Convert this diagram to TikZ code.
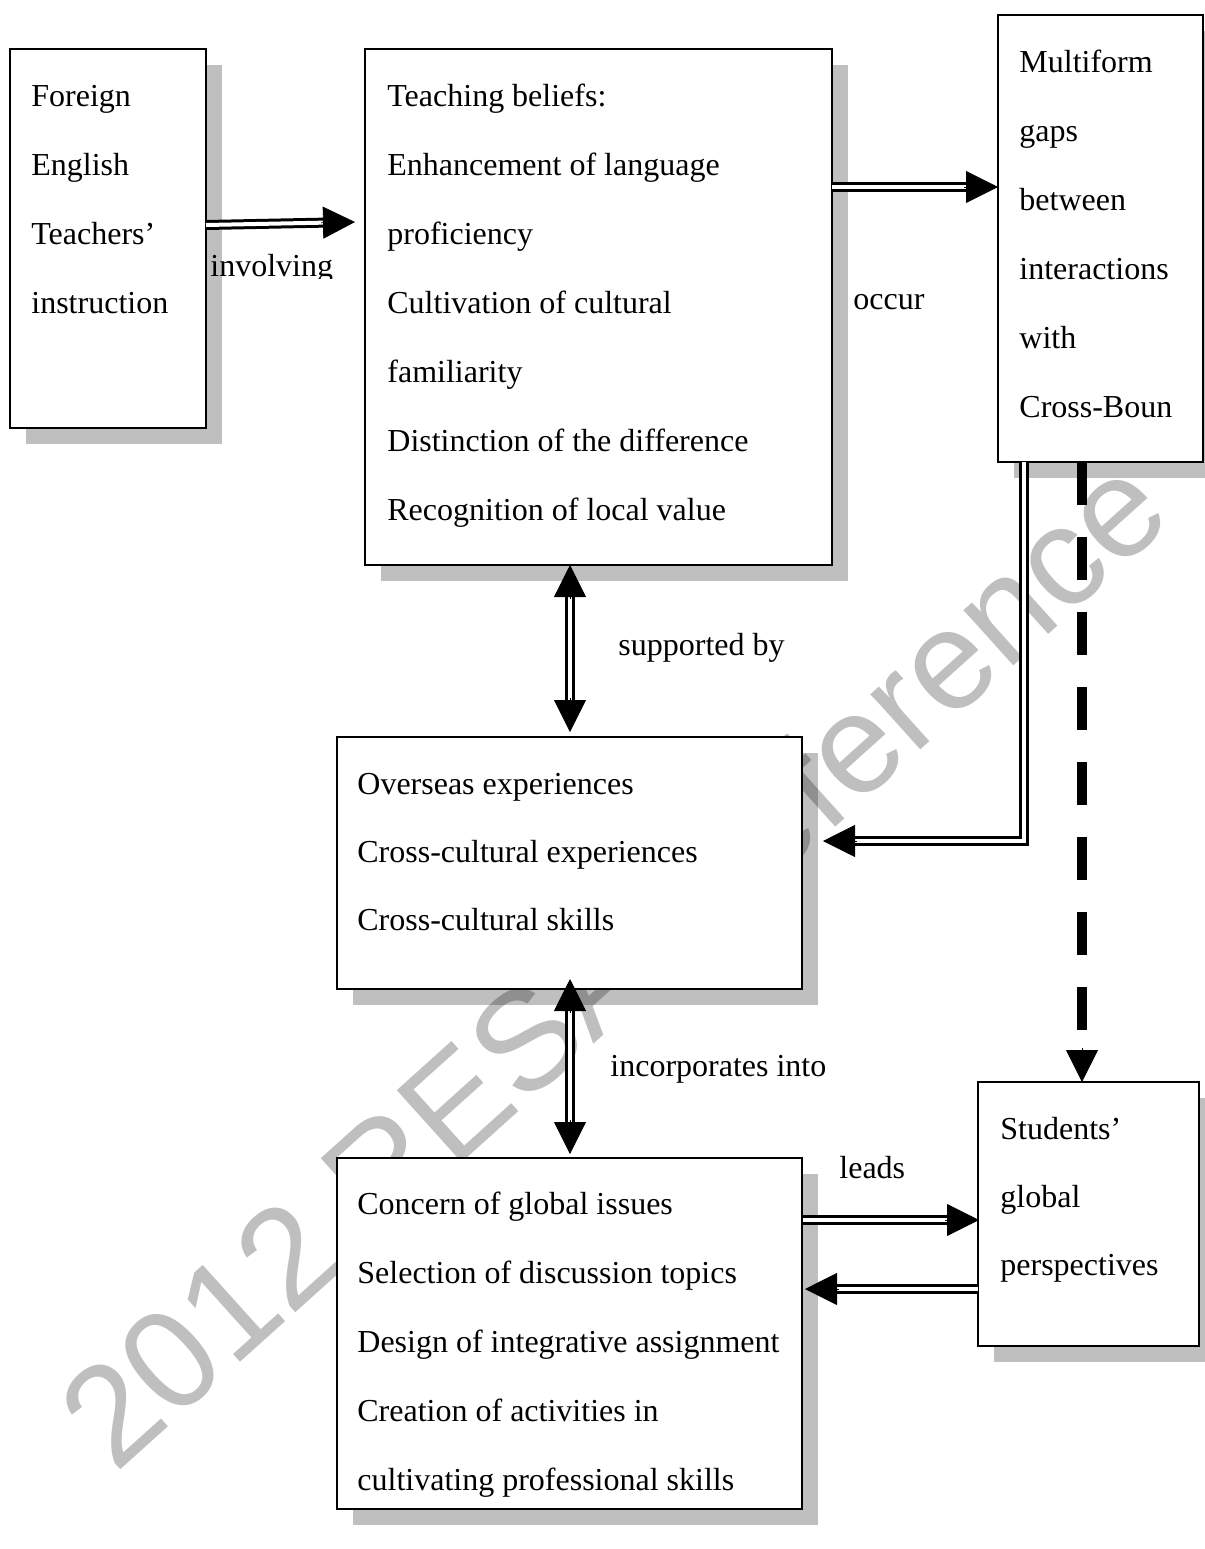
\documentclass[tikz,border=0pt]{standalone}
\usepackage{fontspec}
\setmainfont{Liberation Serif}
\newfontfamily\wmfont{Liberation Sans}
\usetikzlibrary{arrows.meta,shadows,calc}
\tikzset{
  box/.style={draw=black, line width=1pt, fill=white, inner sep=0pt, outer sep=0pt,
    anchor=north west,
    drop shadow={shadow xshift=8pt, shadow yshift=-8pt, fill=black, opacity=0.25}},
  txt/.style={anchor=base west, inner sep=0pt, font=\fontsize{16}{16}\selectfont},
  dbl/.style={draw=black, double=white, double distance=2pt, line width=1.5pt},
  head/.style={line width=0.4pt, -{Triangle[length=16pt,width=16pt]}},
  dashline/.style={line width=5pt, dash pattern=on 21.5pt off 16pt},
  wm/.style={font=\wmfont\fontsize{70.5}{70.5}\selectfont, text=black, opacity=0.25,
    inner sep=0pt, rotate=42}
}
\newcommand\dblarrow[2]{%
  \draw[dbl, shorten >=15pt] (#1) -- (#2);
  \draw[head] ($(#2)!17pt!(#1)$) -- (#2);}
\newcommand\twoarrow[2]{%
  \draw[dbl, shorten >=15pt, shorten <=15pt] (#1) -- (#2);
  \draw[head] ($(#2)!17pt!(#1)$) -- (#2);
  \draw[head] ($(#1)!17pt!(#2)$) -- (#1);}
\begin{document}
\begin{tikzpicture}[x=0.5pt,y=-0.5pt]
\useasboundingbox[fill=white] (0,0) rectangle (1205,1549);

% watermark
\node[wm] (wmark) at (612,960) {2012 RESA Reference};

% boxes
\node[box, minimum width=98pt,   minimum height=189.5pt] (A) at (10,49) {};
\node[box, minimum width=233.5pt, minimum height=258pt]  (B) at (365,49) {};
\node[box, minimum width=102.5pt, minimum height=223.5pt] (C) at (998,15) {};
\node[box, minimum width=232.5pt, minimum height=126pt]  (D) at (337,737) {};
\node[box, minimum width=232.5pt, minimum height=175.5pt] (E) at (337,1158) {};
\node[box, minimum width=110.5pt, minimum height=132pt]  (F) at (978,1082) {};

% texts of A
\node[txt] (a1) at (31,106) {Foreign};
\node[txt] (a2) at (31,175) {English};
\node[txt] (a3) at (31,244) {Teachers’};
\node[txt] (a4) at (31,313) {instruction};
% texts of B
\node[txt] (b1) at (387,106) {Teaching beliefs:};
\node[txt] (b2) at (387,175) {Enhancement of language};
\node[txt] (b3) at (387,244) {proficiency};
\node[txt] (b4) at (387,313) {Cultivation of cultural};
\node[txt] (b5) at (387,382) {familiarity};
\node[txt] (b6) at (387,451) {Distinction of the difference};
\node[txt] (b7) at (387,520) {Recognition of local value};
% texts of C
\node[txt] (c1) at (1019,72) {Multiform};
\node[txt] (c2) at (1019,141) {gaps};
\node[txt] (c3) at (1019,210) {between};
\node[txt] (c4) at (1019,279) {interactions};
\node[txt] (c5) at (1019,348) {with};
\node[txt] (c6) at (1019,417) {Cross-Boun};
% texts of D
\node[txt] (d1) at (357,794) {Overseas experiences};
\node[txt] (d2) at (357,862) {Cross-cultural experiences};
\node[txt] (d3) at (357,930) {Cross-cultural skills};
% texts of E
\node[txt] (e1) at (357,1214) {Concern of global issues};
\node[txt] (e2) at (357,1283) {Selection of discussion topics};
\node[txt] (e3) at (357,1352) {Design of integrative assignment};
\node[txt] (e4) at (357,1421) {Creation of activities in};
\node[txt] (e5) at (357,1490) {cultivating professional skills};
% texts of F
\node[txt] (f1) at (1000,1139) {Students’};
\node[txt] (f2) at (1000,1207) {global};
\node[txt] (f3) at (1000,1275) {perspectives};

% labels
\begin{scope}
  \clip (200,0) rectangle (360,278);
  \node[txt] (lInv) at (210,276) {involving};
\end{scope}
\node[txt] (lOcc) at (853,309) {occur};
\node[txt] (lSup) at (618,655) {supported by};
\node[txt] (lInc) at (610,1076) {incorporates into};
\node[txt] (lLea) at (839,1178) {leads};

% connector end points
\coordinate (abS) at (206,225);
\coordinate (abT) at (355,222);
\coordinate (bcS) at (832,187);
\coordinate (bcT) at (998,187);
\coordinate (bdS) at (570,565);
\coordinate (bdT) at (570,732);
\coordinate (deS) at (570,979);
\coordinate (deT) at (570,1154);
\coordinate (efS) at (803,1220);
\coordinate (efT) at (979,1220);
\coordinate (feS) at (978,1289);
\coordinate (feT) at (805,1289);
\coordinate (cdS) at (1024,462);
\coordinate (cdT) at (823,841);
\coordinate (cfS) at (1082,462);
\coordinate (cfT) at (1082,1082);

% connectors
\dblarrow{abS}{abT}
\dblarrow{bcS}{bcT}
\twoarrow{bdS}{bdT}
\twoarrow{deS}{deT}
\dblarrow{efS}{efT}
\dblarrow{feS}{feT}
\draw[dbl, shorten >=15pt] (cdS) |- (cdT);
\draw[head] ($(cdT)+(34,0)$) -- (cdT);
\draw[dashline, shorten >=16pt] (cfS) -- (cfT);
\draw[head] ($(cfT)+(0,-34)$) -- (cfT);
\end{tikzpicture}
\end{document}
